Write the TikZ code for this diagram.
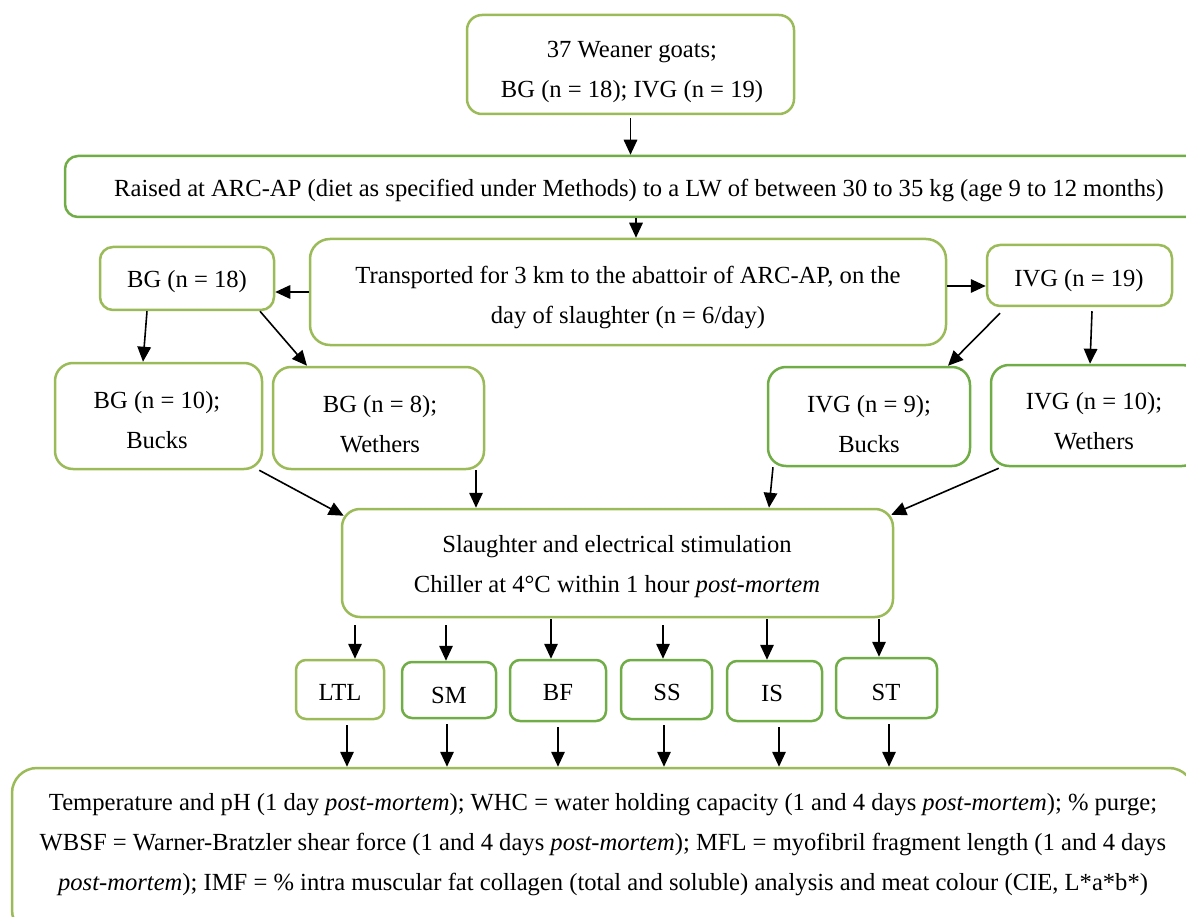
\documentclass[tikz,border=0pt]{standalone}
\usepackage{fontspec}
\setmainfont{Liberation Serif}
\usetikzlibrary{arrows.meta,calc}
\definecolor{lg}{HTML}{9BBB59}
\definecolor{dg}{HTML}{70AD47}
\tikzset{
 box/.style={draw=lg, line width=2.5pt, rounded corners=13pt, inner sep=0pt},
 dbox/.style={box, draw=dg},
 txt/.style={align=center, inner sep=0pt, font=\fontsize{24.6}{40}\selectfont},
 arr/.style={-{Triangle[length=15pt,width=13.5pt]}, line width=1.6pt, black},
}
\begin{document}
\begin{tikzpicture}[x=1pt,y=-1pt]
\useasboundingbox (0,0) rectangle (1186,917);
\clip (0,0) rectangle (1186,917);
% boxes
\node[box, minimum width=327pt, minimum height=99pt, rounded corners=15pt] (top) at (630.5,64.5) {};
\node[dbox, minimum width=1148pt, minimum height=61pt] (raised) at (639,186.5) {};
\node[box, minimum width=174pt, minimum height=63pt] (bg18) at (187,278.5) {};
\node[box, minimum width=636pt, minimum height=106pt, rounded corners=20pt] (transport) at (628,292) {};
\node[box, minimum width=185pt, minimum height=61pt] (ivg19) at (1079.5,275.5) {};
\node[box, minimum width=207pt, minimum height=106pt, rounded corners=18pt] (bg10) at (158.5,416) {};
\node[box, minimum width=211pt, minimum height=102pt, rounded corners=18pt] (bg8) at (378.5,418) {};
\node[dbox, minimum width=202pt, minimum height=99pt, rounded corners=18pt] (ivg9) at (869,416.5) {};
\node[dbox, minimum width=209pt, minimum height=101pt, rounded corners=18pt] (ivg10) at (1095.5,415.5) {};
\node[box, minimum width=551pt, minimum height=108pt, rounded corners=18pt] (slaughter) at (617.5,563) {};
\node[box, minimum width=88pt, minimum height=59pt, rounded corners=10pt] (ltl) at (340,689.5) {};
\node[dbox, minimum width=94pt, minimum height=56pt, rounded corners=10pt] (sm) at (449,690) {};
\node[dbox, minimum width=96pt, minimum height=61pt, rounded corners=10pt] (bf) at (558,690.5) {};
\node[dbox, minimum width=91pt, minimum height=59pt, rounded corners=10pt] (ss) at (666.5,689.5) {};
\node[dbox, minimum width=95pt, minimum height=60pt, rounded corners=10pt] (is) at (774.5,691) {};
\node[dbox, minimum width=101pt, minimum height=60pt, rounded corners=10pt] (st) at (886.5,688) {};
\node[box, minimum width=1182pt, minimum height=167pt, rounded corners=25pt] (bottom) at (603,851.5) {};
% texts
\node[txt] (toptx) at (632,72) {37 Weaner goats;\\BG (n = 18); IVG (n = 19)};
\node[txt] (raisedtx) at (639,190) {Raised at ARC-AP (diet as specified under Methods) to a LW of between 30 to 35 kg (age 9 to 12 months)};
\node[txt] (bg18tx) at (187,282) {BG (n = 18)};
\node[txt] (transporttx) at (628,297) {Transported for 3 km to the abattoir of ARC-AP, on the\\day of slaughter (n = 6/day)};
\node[txt] (ivg19tx) at (1079,281) {IVG (n = 19)};
\node[txt] (bg10tx) at (157,420) {BG (n = 10);\\Bucks};
\node[txt] (bg8tx) at (380,424) {BG (n = 8);\\Wethers};
\node[txt] (ivg9tx) at (869,424) {IVG (n = 9);\\Bucks};
\node[txt] (ivg10tx) at (1094,421) {IVG (n = 10);\\Wethers};
\node[txt] (slaughtertx) at (617,567) {Slaughter and electrical stimulation\\Chiller at 4°C within 1 hour \textit{post-mortem}};
\node[txt] (ltltx) at (340,692) {LTL};
\node[txt] (smtx) at (449,695) {SM};
\node[txt] (bftx) at (558,692) {BF};
\node[txt] (sstx) at (667,692) {SS};
\node[txt] (istx) at (772,693) {IS};
\node[txt] (sttx) at (886,692) {ST};
\node[txt] (bottomtx) at (603,845) {Temperature and pH (1 day \textit{post-mortem}); WHC = water holding capacity (1 and 4 days \textit{post-mortem}); \% purge;\\WBSF = Warner-Bratzler shear force (1 and 4 days \textit{post-mortem}); MFL = myofibril fragment length (1 and 4 days\\\textit{post-mortem}); IMF = \% intra muscular fat collagen (total and soluble) analysis and meat colour (CIE, L*a*b*)};
% connectors
\draw[arr, shorten <=3pt] (top.south) -- (top.south |- raised.north);
\draw[arr] ($(raised.south)+(-3,0)$) -- ($(transport.north)+(8,0)$);
\draw[arr] (transport.west) -- (transport.west -| bg18.east);
\coordinate (trr) at ($(transport.east)+(0,-6)$);
\draw[arr] (trr) -- (trr -| ivg19.west);
\draw[arr] ($(bg18.south)+(-40,0)$) -- ($(bg10.north)+(-15.5,0)$);
\draw[arr] ($(bg18.south)+(73,0)$) -- ($(bg8.north)+(-71.5,0)$);
\draw[arr] ($(ivg19.south)+(-79.5,6)$) -- ($(ivg9.north)+(79,0)$);
\draw[arr] ($(ivg19.south)+(12.5,4)$) -- ($(ivg10.north)+(-5.5,0)$);
\draw[arr] ($(bg10.south east)+(-4,0)$) -- ($(slaughter.north west)+(3,8)$);
\coordinate (b8s) at ($(bg8.south)+(97.5,0)$);
\draw[arr] (b8s) -- (b8s |- slaughter.north);
\draw[arr] ($(ivg9.south)+(-96,0)$) -- ($(slaughter.north)+(151.5,0)$);
\draw[arr] ($(ivg10.south west)+(9,1)$) -- ($(slaughter.north east)+(-3,7)$);
% slaughter to muscles
\coordinate (m1) at ($(ltl.north)+(15,0)$);
\coordinate (m2) at ($(sm.north)+(-3,0)$);
\coordinate (m3) at ($(bf.north)+(-7,0)$);
\coordinate (m4) at ($(ss.north)+(-3.5,0)$);
\coordinate (m5) at ($(is.north)+(-7.5,0)$);
\coordinate (m6) at ($(st.north)+(-7.5,0)$);
\draw[arr, shorten <=7pt] (m1 |- slaughter.south) -- (m1);
\draw[arr, shorten <=7pt] (m2 |- slaughter.south) -- (m2);
\draw[arr, shorten <=1pt] (m3 |- slaughter.south) -- (m3);
\draw[arr, shorten <=7pt] (m4 |- slaughter.south) -- (m4);
\draw[arr, shorten <=1pt] (m5 |- slaughter.south) -- (m5);
\draw[arr, shorten <=1pt] (m6 |- slaughter.south) -- (m6);
% muscles to bottom
\coordinate (n1) at ($(ltl.south)+(7,0)$);
\coordinate (n2) at ($(sm.south)+(-2,0)$);
\coordinate (n3) at ($(bf.south)+(0,0)$);
\coordinate (n4) at ($(ss.south)+(-2.5,0)$);
\coordinate (n5) at ($(is.south)+(4.5,0)$);
\coordinate (n6) at ($(st.south)+(2.5,0)$);
\draw[arr, shorten <=5pt] (n1) -- (n1 |- bottom.north);
\draw[arr, shorten <=5pt] (n2) -- (n2 |- bottom.north);
\draw[arr, shorten <=5pt] (n3) -- (n3 |- bottom.north);
\draw[arr, shorten <=5pt] (n4) -- (n4 |- bottom.north);
\draw[arr, shorten <=5pt] (n5) -- (n5 |- bottom.north);
\draw[arr, shorten <=5pt] (n6) -- (n6 |- bottom.north);
\end{tikzpicture}
\end{document}
